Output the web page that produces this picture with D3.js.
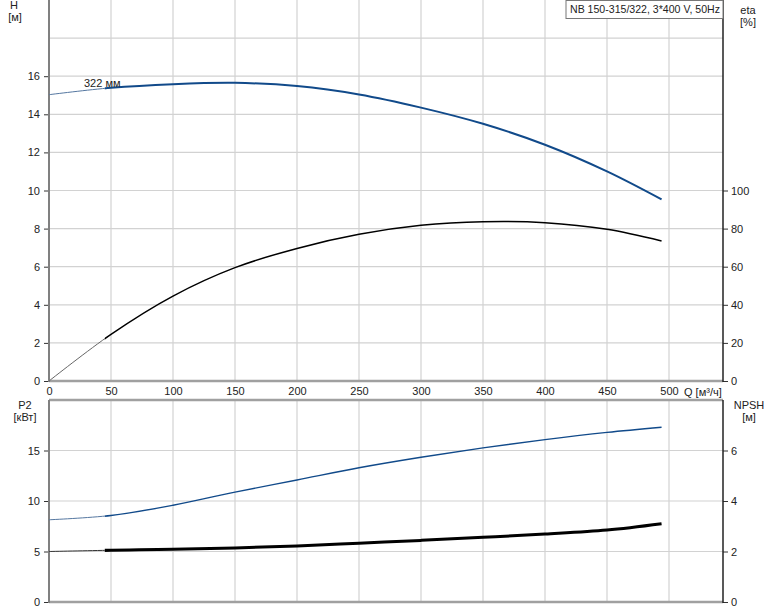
<!DOCTYPE html>
<html><head><meta charset="utf-8">
<script src="https://cdn.jsdelivr.net/npm/d3@7"></script>
<style>
body{margin:0;background:#fff;}
svg{display:block;font-family:"Liberation Sans",Arial,sans-serif;}
</style></head>
<body><svg id="c" width="774" height="611"></svg>
<script>
// ---- data ----
const qValues    = [0, 50, 100, 150, 200, 250, 300, 350, 400, 450, 494];
const headValues = [15.03, 15.39, 15.58, 15.65, 15.48, 15.04, 14.35, 13.5, 12.4, 11.0, 9.53];
const etaValues  = [0, 24.5, 44.6, 59.5, 69.6, 77.0, 81.7, 83.6, 83.1, 79.6, 73.5];
const p2Values   = [8.14, 8.57, 9.58, 10.88, 12.08, 13.29, 14.33, 15.26, 16.08, 16.79, 17.3];
const npshValues = [2.0, 2.05, 2.09, 2.14, 2.22, 2.33, 2.44, 2.56, 2.69, 2.85, 3.1];
const qTicks    = [0, 50, 100, 150, 200, 250, 300, 350, 400, 450, 500];
const hTicks    = [0, 2, 4, 6, 8, 10, 12, 14, 16];
const hGrid     = [2, 4, 6, 8, 10, 12, 14, 16, 18];
const etaTicks  = [0, 20, 40, 60, 80, 100];
const p2Ticks   = [0, 5, 10, 15];
const npshTicks = [0, 2, 4, 6];
const title = "NB 150-315/322, 3*400 V, 50Hz";
const curveLabel = "322 мм";
const qThin = 45;

// ---- layout ----
const L = 49, R = 723;
const svg = d3.select("#c");
const x = d3.scaleLinear().domain([0, 500]).range([L, 669]);
const yH = d3.scaleLinear().domain([0, 20]).range([381, 0]);
const yEta = d3.scaleLinear().domain([0, 200]).range([381, 0]);
const yP2 = d3.scaleLinear().domain([0, 20]).range([602, 400]);
const yN = d3.scaleLinear().domain([0, 8]).range([602, 400]);

const gridC = "#d2d2d2", txt = "#222";

// grid
const g = svg.append("g");
qTicks.slice(1).forEach(q => {
  g.append("line").attr("x1", x(q)).attr("x2", x(q)).attr("y1", 0).attr("y2", 381)
    .attr("stroke", gridC).attr("stroke-width", 1.2);
  g.append("line").attr("x1", x(q)).attr("x2", x(q)).attr("y1", 400).attr("y2", 602)
    .attr("stroke", gridC).attr("stroke-width", 1.2);
});
hGrid.forEach(h => g.append("line").attr("x1", L).attr("x2", R).attr("y1", yH(h)).attr("y2", yH(h))
  .attr("stroke", gridC).attr("stroke-width", 1.2));
p2Ticks.slice(1).forEach(p => g.append("line").attr("x1", L).attr("x2", R).attr("y1", yP2(p)).attr("y2", yP2(p))
  .attr("stroke", gridC).attr("stroke-width", 1.2));

// horizontal frame lines
[381, 400, 602].forEach(yy => svg.append("line").attr("x1", L).attr("x2", R).attr("y1", yy).attr("y2", yy)
  .attr("stroke", "#a0a0a0").attr("stroke-width", 2.5));

// axes
function styleAxis(sel) {
  sel.select(".domain").remove();
  sel.selectAll("text").attr("fill", txt).style("font-size", "11px")
    .style("font-family", "'Liberation Sans',Arial,sans-serif");
  sel.selectAll("line").attr("stroke", "#333");
}
svg.append("g").attr("transform", `translate(${L},0)`)
  .call(d3.axisLeft(yH).tickValues(hTicks).tickSize(5).tickPadding(4)).call(styleAxis);
svg.append("g").attr("transform", `translate(${R},0)`)
  .call(d3.axisRight(yEta).tickValues(etaTicks).tickSize(5).tickPadding(3)).call(styleAxis);
svg.append("g").attr("transform", `translate(${L},0)`)
  .call(d3.axisLeft(yP2).tickValues(p2Ticks).tickSize(5).tickPadding(4)).call(styleAxis);
svg.append("g").attr("transform", `translate(${R},0)`)
  .call(d3.axisRight(yN).tickValues(npshTicks).tickSize(5).tickPadding(3)).call(styleAxis);
svg.append("g").attr("transform", `translate(0,383)`)
  .call(d3.axisBottom(x).tickValues(qTicks).tickSize(0).tickPadding(4)).call(styleAxis);

// vertical axis lines
svg.append("line").attr("x1", L).attr("x2", L).attr("y1", 0).attr("y2", 382).attr("stroke", "#808080").attr("stroke-width", 2);
svg.append("line").attr("x1", L).attr("x2", L).attr("y1", 400).attr("y2", 603).attr("stroke", "#808080").attr("stroke-width", 2);
svg.append("line").attr("x1", R).attr("x2", R).attr("y1", 0).attr("y2", 382).attr("stroke", "#222").attr("stroke-width", 1.5);
svg.append("line").attr("x1", R).attr("x2", R).attr("y1", 400).attr("y2", 603).attr("stroke", "#222").attr("stroke-width", 1.5);

// labels
function label(t, xx, yy, anchor) {
  svg.append("text").attr("x", xx).attr("y", yy).attr("text-anchor", anchor || "middle")
    .attr("fill", txt).style("font-size", "11px").text(t);
}
label("H", 14, 9); label("[м]", 15, 21);
label("eta", 748, 14); label("[%]", 748, 26);
label("P2", 25, 409); label("[кВт]", 25, 421);
label("NPSH", 749, 409); label("[м]", 749, 421);
label("Q [м³/ч]", 684, 396, "start");

// title box
const tb = svg.append("g");
tb.append("rect").attr("x", 566).attr("y", 0.5).attr("width", R - 566).attr("height", 18)
  .attr("fill", "#fff").attr("stroke", "#777").attr("stroke-width", 1);
tb.append("text").attr("x", 570).attr("y", 13).attr("fill", txt).style("font-size", "11px")
  .attr("textLength", 150).attr("lengthAdjust", "spacingAndGlyphs").text(title);

// curves
const defs = svg.append("defs");
defs.append("clipPath").attr("id", "thick").append("rect")
  .attr("x", x(qThin)).attr("y", 0).attr("width", R - x(qThin)).attr("height", 611);
defs.append("clipPath").attr("id", "thin").append("rect")
  .attr("x", 0).attr("y", 0).attr("width", x(qThin)).attr("height", 611);

function drawCurve(vals, yS, col, thinCol, w) {
  const data = qValues.map((q, i) => [q, vals[i]]);
  const line = d3.line().x(d => x(d[0])).y(d => yS(d[1])).curve(d3.curveCatmullRom.alpha(0.5));
  svg.append("path").datum(data).attr("d", line).attr("fill", "none")
    .attr("stroke", thinCol).attr("stroke-width", 1).attr("clip-path", "url(#thin)");
  svg.append("path").datum(data).attr("d", line).attr("fill", "none")
    .attr("stroke", col).attr("stroke-width", w).attr("clip-path", "url(#thick)");
}
drawCurve(headValues, yH, "#114a8a", "#5577a0", 2);
drawCurve(etaValues, yEta, "#000", "#666", 1.5);
drawCurve(p2Values, yP2, "#114a8a", "#5577a0", 1.4);
drawCurve(npshValues, yN, "#000", "#333", 3);

// curve label
svg.append("text").attr("x", 84).attr("y", 87).attr("fill", txt).style("font-size", "11px").text(curveLabel);
</script></body></html>
